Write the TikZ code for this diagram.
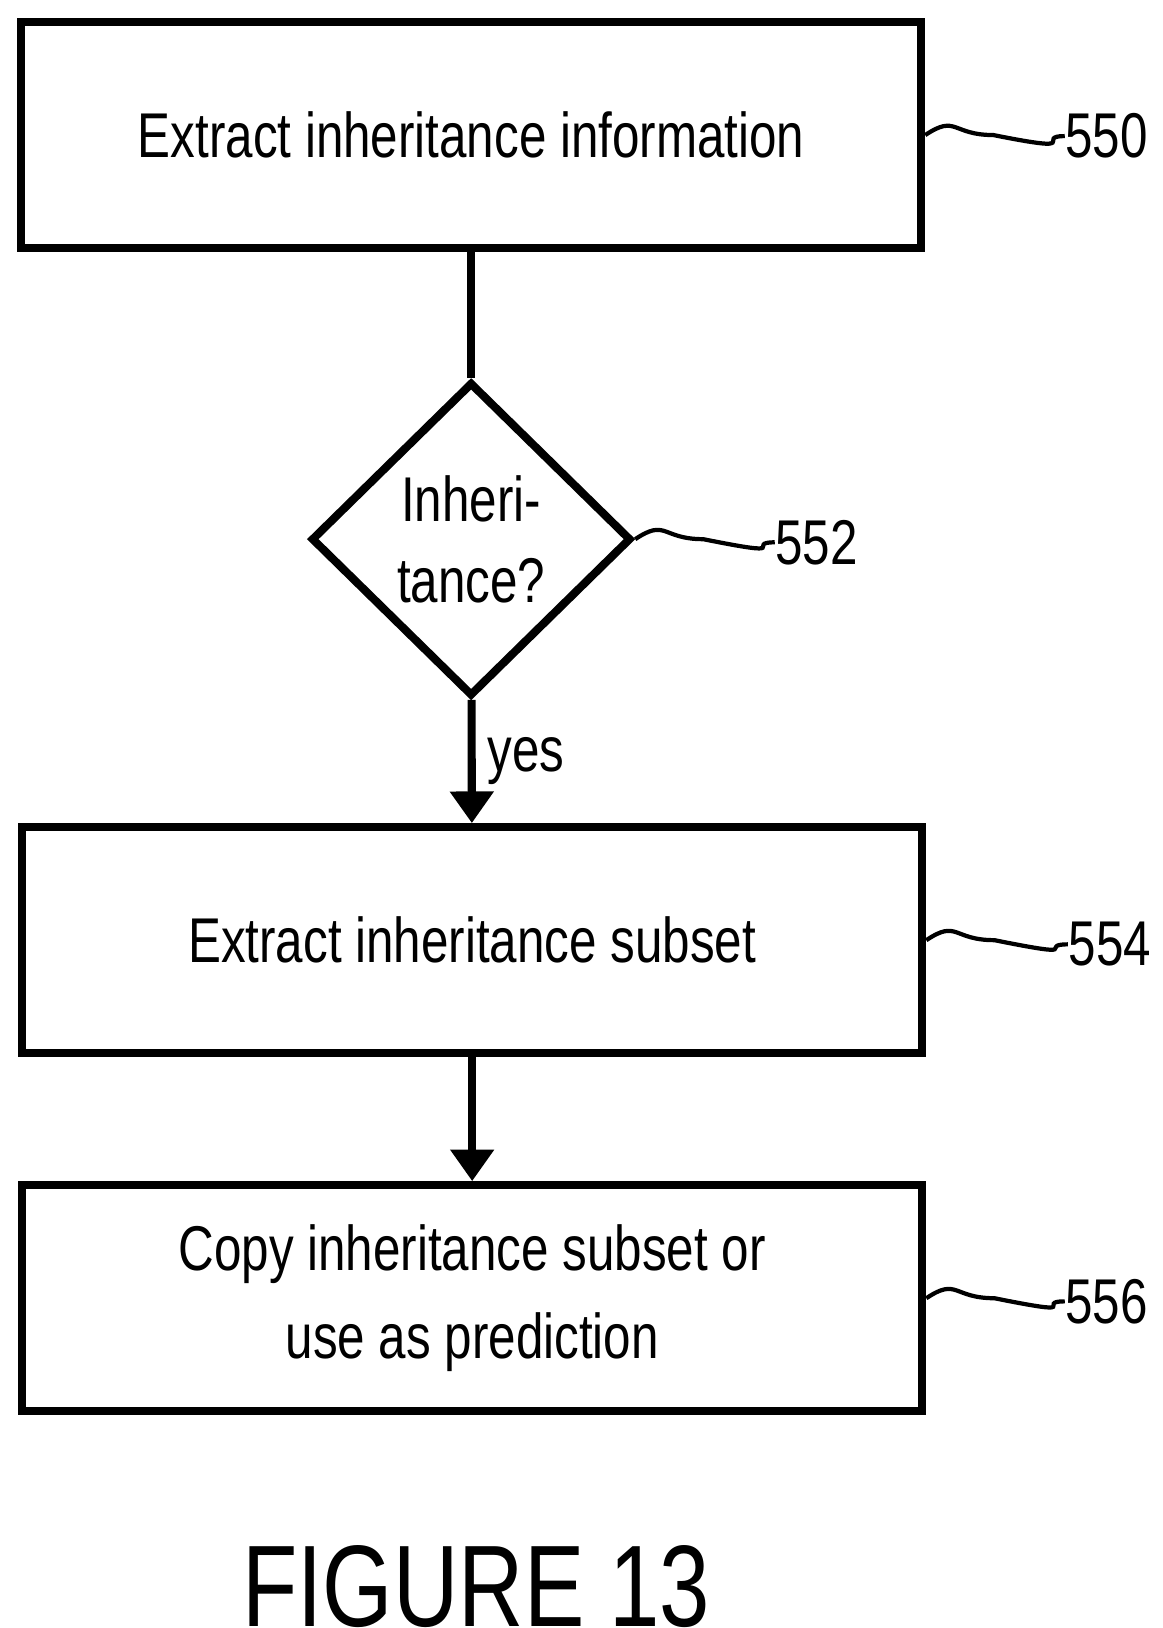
\documentclass[tikz,border=0pt]{standalone}
\usepackage{fontspec}
\setmainfont{Liberation Sans}[FakeStretch=0.78]
\usetikzlibrary{shapes.geometric,arrows.meta}
\tikzset{
	task/.style = {draw=black, line width=2.3pt, minimum width=9.0cm, minimum height=2.26cm, align=center, font=\fontsize{18}{25}\selectfont},
	decide/.style = {draw=black, line width=2.3pt, diamond, minimum width=3.2cm, minimum height=3.14cm, inner sep=0pt, align=center, font=\fontsize{18}{23}\selectfont},
	refnum/.style = {font=\fontsize{18}{21}\selectfont, anchor=west, inner sep=0pt},
	flow/.style = {line width=2.3pt, -{Triangle[length=9pt,width=12pt]}},
	lead/.style = {line width=1.2pt}
}
\begin{document}
\begin{tikzpicture}[x=0.01047cm,y=-0.01047cm]
		\useasboundingbox (0,0) rectangle (1110,1555);
		\node [task] (extract) at (450,129) {Extract inheritance information};
		\node [decide] (inherit) at (450,515) {Inheri-\\tance?};
		\node [task] (subset) at (451,898) {Extract inheritance subset};
		\node [task] (copy) at (451,1240) {Copy inheritance subset or\\use as prediction};
		% reference numerals
		\node [refnum] (n550) at (1017,130) {550};
		\node [refnum] (n552) at (740,518) {552};
		\node [refnum] (n554) at (1020,902) {554};
		\node [refnum] (n556) at (1017,1243) {556};
		\draw [line width=2.3pt] (extract) -- (inherit);
		\draw [flow] (inherit) -- node [right, font=\fontsize{18}{21}\selectfont] {yes} (subset);
		\draw [flow] (subset) -- (copy);
		\draw [lead] (extract.east) .. controls +(30,-20) and +(-40,0) .. +(65,0) .. controls +(90,18) and +(-30,0) .. (n550.west);
		\draw [lead] (inherit.east) .. controls +(30,-20) and +(-40,0) .. +(65,0) .. controls +(90,18) and +(-30,0) .. (n552.west);
		\draw [lead] (subset.east) .. controls +(30,-20) and +(-40,0) .. +(65,0) .. controls +(90,18) and +(-30,0) .. (n554.west);
		\draw [lead] (copy.east) .. controls +(30,-20) and +(-40,0) .. +(65,0) .. controls +(90,18) and +(-30,0) .. (n556.west);
		\node [font=\fontsize{33}{37}\selectfont] (caption) at (455,1515) {FIGURE 13};
\end{tikzpicture}
\end{document}
